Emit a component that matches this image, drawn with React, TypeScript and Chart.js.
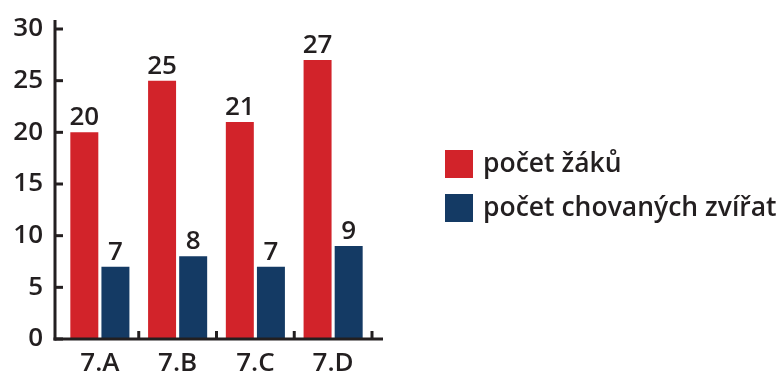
import React, { useEffect, useRef } from "react";
import { Chart, registerables } from "chart.js";

Chart.register(...registerables);

const categories = ["7.A", "7.B", "7.C", "7.D"];
const pupils = [20, 25, 21, 27];
const animals = [7, 8, 7, 9];
const seriesNames = ["počet žáků", "počet chovaných zvířat"];
const seriesColors = ["#d2232a", "#143a64"];
const yTicks = [0, 5, 10, 15, 20, 25, 30];

const TEXT = "#231f20";
const FONT_FAMILY = "'Open Sans', 'Noto Sans', sans-serif";
const WEIGHT = "600";
const SIZE = 26;
const FONT = `${WEIGHT} ${SIZE}px ${FONT_FAMILY}`;
const LEGEND_FONT = `${WEIGHT} 26.5px ${FONT_FAMILY}`;

const decorPlugin = {
  id: "decor",
  afterDatasetsDraw(chart: any) {
    const { ctx, chartArea, scales } = chart;
    const x = scales.x;
    const y = scales.y;
    ctx.save();
    ctx.fillStyle = TEXT;
    ctx.font = FONT;
    ctx.textAlign = "center";
    ctx.textBaseline = "alphabetic";
    chart.data.datasets.forEach((ds: any, di: number) => {
      const meta = chart.getDatasetMeta(di);
      meta.data.forEach((el: any, i: number) => {
        ctx.fillText(String(ds.data[i]), el.x, el.y - 7);
      });
    });
    ctx.strokeStyle = TEXT;
    ctx.lineWidth = 3;
    ctx.lineCap = "butt";
    const axX = chartArea.left - 6;
    const axY = y.getPixelForValue(0);
    const top = y.getPixelForValue(yTicks[yTicks.length - 1]);
    ctx.beginPath();
    ctx.moveTo(axX, top - 9);
    ctx.lineTo(axX, axY + 1.5);
    ctx.stroke();
    ctx.beginPath();
    ctx.moveTo(axX - 1.5, axY);
    ctx.lineTo(chartArea.right + 11, axY);
    ctx.stroke();
    yTicks.forEach((v) => {
      const py = y.getPixelForValue(v);
      ctx.beginPath();
      ctx.moveTo(axX, py);
      ctx.lineTo(axX + 8, py);
      ctx.stroke();
    });
    const n = categories.length;
    for (let i = 1; i <= n; i++) {
      const px = x.left + (i * x.width) / n;
      ctx.beginPath();
      ctx.moveTo(px, axY);
      ctx.lineTo(px, axY - 8);
      ctx.stroke();
    }
    const lx = 445;
    const ly0 = 150;
    const gap = 44;
    ctx.font = LEGEND_FONT;
    seriesNames.forEach((name, i) => {
      const by = ly0 + i * gap;
      ctx.fillStyle = seriesColors[i];
      ctx.fillRect(lx, by, 28, 28);
      ctx.fillStyle = TEXT;
      ctx.textAlign = "left";
      ctx.textBaseline = "middle";
      ctx.fillText(name, lx + 38, by + 14);
    });
    ctx.restore();
  },
};

export default function App() {
  const ref = useRef<HTMLCanvasElement>(null);
  useEffect(() => {
    document.body.style.margin = "0";
    const tickFont = { family: FONT_FAMILY, size: SIZE, weight: WEIGHT as any };
    const chart = new Chart(ref.current!, {
      type: "bar",
      data: {
        labels: categories,
        datasets: [
          {
            label: seriesNames[0],
            data: pupils,
            backgroundColor: seriesColors[0],
            barPercentage: 0.9,
            categoryPercentage: 0.8,
          },
          {
            label: seriesNames[1],
            data: animals,
            backgroundColor: seriesColors[1],
            barPercentage: 0.9,
            categoryPercentage: 0.8,
          },
        ],
      },
      options: {
        responsive: false,
        animation: false,
        layout: { padding: { top: 29, right: 406, left: 0, bottom: 0 } },
        plugins: { legend: { display: false }, tooltip: { enabled: false } },
        scales: {
          x: {
            grid: { display: false, drawTicks: false },
            border: { display: false },
            ticks: { color: TEXT, font: tickFont, padding: 9 },
            afterFit: (s: any) => {
              s.height = 33;
              s.paddingLeft = 0;
              s.paddingRight = 0;
            },
          },
          y: {
            min: 0,
            max: 30,
            grid: { display: false, drawTicks: false },
            border: { display: false },
            ticks: { stepSize: 5, color: TEXT, font: tickFont, padding: 18 },
            afterFit: (s: any) => {
              s.width = 61;
              s.paddingTop = 0;
              s.paddingBottom = 0;
            },
          },
        },
      },
      plugins: [decorPlugin],
    });
    return () => chart.destroy();
  }, []);
  return (
    <div style={{ width: 778, height: 372 }}>
      <canvas ref={ref} width={778} height={372} />
    </div>
  );
}
